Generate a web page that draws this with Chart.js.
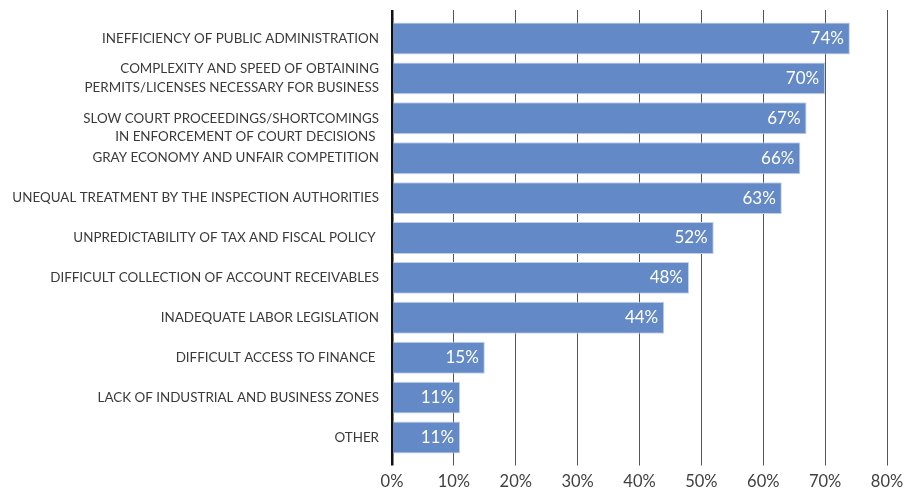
<!DOCTYPE html>
<html>
<head>
<meta charset="utf-8">
<script src="https://cdn.jsdelivr.net/npm/chart.js@4/dist/chart.umd.min.js"></script>
<style>
    html, body { margin: 0; padding: 0; background: #fff; }
    #wrap { width: 906px; height: 489px; }
</style>
</head>
<body>
<div id="wrap"><canvas id="obstacles"></canvas></div>
<script>
// survey: main obstacles to doing business (share of respondents, %)
const categories = [
    'INEFFICIENCY OF PUBLIC ADMINISTRATION',
    ['COMPLEXITY AND SPEED OF OBTAINING', 'PERMITS/LICENSES NECESSARY FOR BUSINESS'],
    ['', 'SLOW COURT PROCEEDINGS/SHORTCOMINGS', 'IN ENFORCEMENT OF COURT DECISIONS '],
    'GRAY ECONOMY AND UNFAIR COMPETITION',
    'UNEQUAL TREATMENT BY THE INSPECTION AUTHORITIES',
    'UNPREDICTABILITY OF TAX AND FISCAL POLICY ',
    'DIFFICULT COLLECTION OF ACCOUNT RECEIVABLES',
    'INADEQUATE LABOR LEGISLATION',
    'DIFFICULT ACCESS TO FINANCE ',
    'LACK OF INDUSTRIAL AND BUSINESS ZONES',
    'OTHER'
];
const shares = [74, 70, 67, 66, 63, 52, 48, 44, 15, 11, 11];
const axisMax = 80;
const axisStep = 10;

const fontFamily = 'Lato, "Noto Sans", sans-serif';

// writes the percentage inside the right end of each bar
const valueLabels = {
    id: 'valueLabels',
    afterDatasetsDraw(chart) {
        const ctx = chart.ctx;
        const meta = chart.getDatasetMeta(0);
        ctx.save();
        ctx.font = '17px ' + fontFamily;
        ctx.fillStyle = '#ffffff';
        ctx.textAlign = 'right';
        ctx.textBaseline = 'middle';
        meta.data.forEach((bar, i) => {
            ctx.fillText(shares[i] + '%', bar.x - 6, bar.y);
        });
        ctx.restore();
    }
};

const gridColor = (c) => c.index === 0 ? '#111111' : '#555555';
const gridWidth = (c) => c.index === 0 ? 2.5 : 1;

// fixed box sizes so the plot area does not depend on label widths
const fixBox = (size) => (scale) => {
    if (scale.isHorizontal()) {
        scale.height = size;
    } else {
        scale.width = size;
    }
    scale.paddingLeft = 0;
    scale.paddingRight = 0;
    scale.paddingTop = 0;
    scale.paddingBottom = 0;
};

const ctx = document.getElementById('obstacles').getContext('2d');
new Chart(ctx, {
    type: 'bar',
    data: {
        labels: categories,
        datasets: [{
            data: shares,
            backgroundColor: '#6389c6',
            borderColor: '#c3d0ea',
            borderWidth: 1,
            categoryPercentage: 1,
            barPercentage: 0.8
        }]
    },
    options: {
        indexAxis: 'y',
        responsive: true,
        maintainAspectRatio: false,
        animation: false,
        layout: { padding: { left: 0, right: 19, top: 0, bottom: 0 } },
        plugins: {
            legend: { display: false },
            tooltip: { enabled: false }
        },
        scales: {
            x: {
                position: 'bottom',
                min: 0,
                max: axisMax,
                afterFit: fixBox(31.5),
                ticks: {
                    stepSize: axisStep,
                    padding: 6,
                    color: '#404040',
                    font: { family: fontFamily, size: 16.5 },
                    callback: (v) => v + '%'
                },
                grid: { color: gridColor, lineWidth: gridWidth, tickLength: 8 },
                border: { display: false }
            },
            xTop: {
                position: 'top',
                min: 0,
                max: axisMax,
                afterFit: fixBox(18.5),
                ticks: { display: false, stepSize: axisStep },
                grid: { drawOnChartArea: false, color: gridColor, lineWidth: gridWidth, tickLength: 8.5 },
                border: { display: false }
            },
            y: {
                afterFit: fixBox(392),
                ticks: {
                    autoSkip: false,
                    padding: 13,
                    color: '#3a3a3a',
                    font: { family: fontFamily, size: 13.4, lineHeight: 1.4 }
                },
                grid: { display: false, drawTicks: false },
                border: { display: false }
            }
        }
    },
    plugins: [valueLabels]
});
</script>
</body>
</html>
